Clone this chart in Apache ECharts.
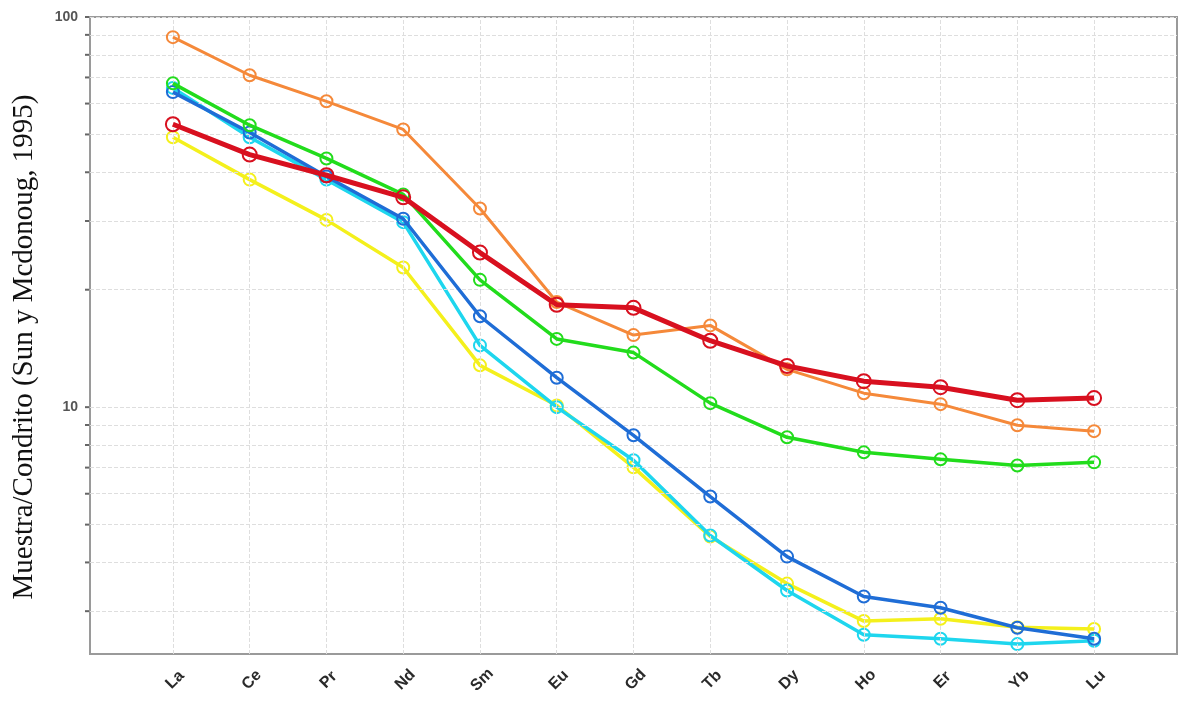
<!DOCTYPE html>
<html><head><meta charset="utf-8">
<script src="https://cdn.jsdelivr.net/npm/echarts@6/dist/echarts.min.js"></script>
<style>html,body{margin:0;padding:0;background:#fff}#c{width:1193px;height:702px}</style>
</head><body><div id="c"></div>
<script>
const categories = ['La','Ce','Pr','Nd','Sm','Eu','Gd','Tb','Dy','Ho','Er','Yb','Lu'];
const orange = [88.8,70.9,60.8,51.5,32.3,18.6,15.3,16.2,12.5,10.86,10.18,8.99,8.68];
const green  = [67.6,52.8,43.4,35.1,21.2,14.96,13.8,10.24,8.37,7.66,7.35,7.09,7.22];
const blue   = [64.2,50.6,39.0,30.4,17.1,11.9,8.47,5.90,4.14,3.27,3.06,2.72,2.55];
const cyan   = [65.8,49.2,38.3,29.8,14.4,10.0,7.31,4.69,3.39,2.61,2.55,2.47,2.52];
const red    = [53.1,44.4,39.3,34.5,24.9,18.3,17.97,14.8,12.75,11.66,11.25,10.42,10.55];
const yellow = [49.2,38.3,30.2,22.8,12.8,10.1,7.01,4.66,3.53,2.83,2.87,2.73,2.70];
const yGridValues = [3,4,5,6,7,8,9,10,20,30,40,50,60,70,80,90];
const yLabelValues = [10,100];
const yAxisTitle = 'Muestra/Condrito (Sun y Mcdonoug, 1995)';

const chart = echarts.init(document.getElementById('c'), null, {renderer:'canvas'});
function mk(name, arr, color, width, sym, z){
  return {
    name, type:'line', z,
    data: arr.map((v,i)=>[i,v]),
    symbol:'circle', symbolSize: sym,
    lineStyle:{color, width},
    itemStyle:{color:'rgba(255,255,255,0)', borderColor:color, borderWidth:2},
    emphasis:{disabled:true}, animation:false
  };
}
const gridLines = [
  ...yGridValues.map(v=>({yAxis:v, label:{show:false}})),
  ...yLabelValues.map(v=>({yAxis:v, label:{show:true, position:'start', formatter:String(v), distance:12,
      color:'#555', fontWeight:'bold', fontSize:14, fontFamily:'Liberation Sans'}})),
];
const vLines = categories.map((c,i)=>({xAxis:i, label:{show:false}}));
const option = {
  backgroundColor:'#fff',
  animation:false,
  grid:{left:90, top:17, width:1087, height:637, show:true, borderColor:'#9a9a9a', borderWidth:2, backgroundColor:'#fff'},
  xAxis:{type:'value', min:-1.08, max:13.08,
    axisLine:{show:false}, axisTick:{show:false}, splitLine:{show:false},
    axisLabel:{customValues:categories.map((c,i)=>i), formatter:v=>categories[Math.round(v)],
      rotate:45, align:'center', verticalAlign:'middle',
      fontWeight:'bold', fontSize:16, color:'#2a2a2a', fontFamily:'Liberation Sans', margin:28,
      padding:[0,0,0,6]}},
  yAxis:{type:'log', min:2.33, max:100,
    axisLine:{show:false}, axisTick:{show:false}, splitLine:{show:false}, axisLabel:{show:false}},
  series:[
    {type:'line', data:[], z:1, silent:true,
      markLine:{silent:true, symbol:'none', animation:false,
        lineStyle:{color:'#dedede', type:'dashed', width:1},
        data:[...gridLines, ...vLines]}},
    mk('yellow', yellow, '#f4f01c', 3.5, 12, 3),
    mk('cyan', cyan, '#1ed6ee', 3.5, 12, 4),
    mk('blue', blue, '#1f6dd6', 3.5, 12, 5),
    mk('green', green, '#22dc1c', 3.5, 12, 6),
    mk('orange', orange, '#f5893a', 3, 12, 7),
    mk('red', red, '#d8101f', 5, 14, 8)
  ],
  graphic:[{type:'text', x:24, y:347, rotation:Math.PI/2,
    style:{text:yAxisTitle, font:'29px "Liberation Serif"', fill:'#111', textAlign:'center', textVerticalAlign:'middle'}}]
};
chart.setOption(option);
// small outside tick marks on the y axis, placed through the axis scale
const ticks = [...yGridValues, 100].map(v=>{
  const p = chart.convertToPixel({xAxisIndex:0, yAxisIndex:0}, [-1.08, v]);
  return {type:'line', shape:{x1:p[0]-5, y1:p[1], x2:p[0]-1, y2:p[1]}, style:{stroke:'#666', lineWidth:2}};
});
chart.setOption({graphic:[option.graphic[0], ...ticks]});
</script></body></html>
